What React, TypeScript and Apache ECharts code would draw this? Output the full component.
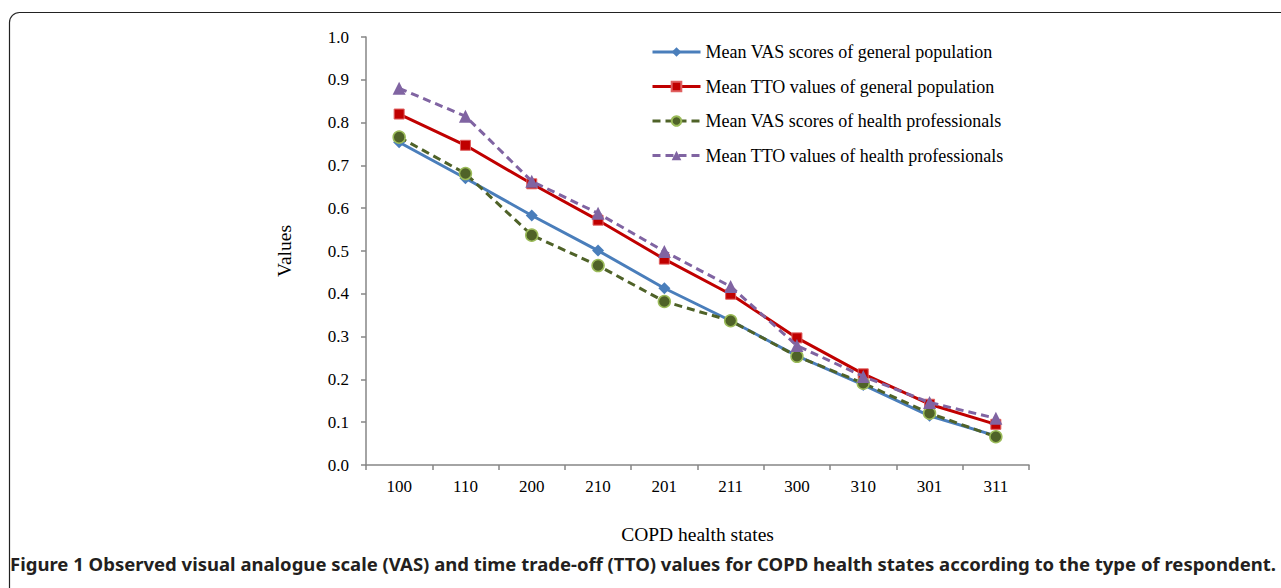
import React, { useEffect, useRef } from "react";
import * as echarts from "echarts";

const categories = ["100", "110", "200", "210", "201", "211", "300", "310", "301", "311"];
const vasGeneral = [0.754, 0.670, 0.583, 0.501, 0.413, 0.337, 0.255, 0.187, 0.115, 0.068];
const ttoGeneral = [0.820, 0.747, 0.657, 0.572, 0.481, 0.399, 0.297, 0.213, 0.142, 0.095];
const vasProf = [0.766, 0.681, 0.537, 0.466, 0.382, 0.337, 0.254, 0.191, 0.121, 0.066];
const ttoProf = [0.880, 0.815, 0.663, 0.588, 0.499, 0.417, 0.279, 0.207, 0.146, 0.109];
const seriesNames = [
  "Mean VAS scores of general population",
  "Mean TTO values of general population",
  "Mean VAS scores of health professionals",
  "Mean TTO values of health professionals",
];
const yTicks = [0, 0.1, 0.2, 0.3, 0.4, 0.5, 0.6, 0.7, 0.8, 0.9, 1.0];
const xTitle = "COPD health states";
const yTitle = "Values";
const caption =
  "Figure 1 Observed visual analogue scale (VAS) and time trade-off (TTO) values for COPD health states according to the type of respondent.";

export default function App() {
  const ref = useRef<HTMLDivElement>(null);
  useEffect(() => {
    if (!ref.current) return;
    const chart = echarts.init(ref.current, null, { renderer: "svg" });
    const serif = "'Liberation Serif', 'Times New Roman', serif";
    const axisColor = "#868686";
    chart.setOption({
      animation: false,
      backgroundColor: "#ffffff",
      textStyle: { fontFamily: serif, color: "#000" },
      graphic: [
        {
          type: "rect",
          shape: { x: 9.5, y: 12.5, width: 1300, height: 600, r: 10 },
          style: { fill: "none", stroke: "#222", lineWidth: 1.2 },
          silent: true,
        },
        {
          type: "text",
          left: 10,
          top: 554,
          style: {
            text: caption,
            fontFamily: "'Noto Sans', 'Open Sans', sans-serif",
            fontWeight: "bold",
            fontSize: 18.5,
            fill: "#231f20",
          },
        },
      ],
      grid: { left: 366, right: 252, top: 37, bottom: 123 },
      legend: {
        orient: "vertical",
        left: 646,
        top: 38,
        itemWidth: 48,
        itemHeight: 12,
        itemGap: 16.5,
        data: seriesNames,
        lineStyle: { width: 3 },
        textStyle: { fontFamily: serif, fontSize: 18, color: "#000" },
      },
      xAxis: {
        type: "category",
        data: categories,
        boundaryGap: true,
        name: xTitle,
        nameLocation: "middle",
        nameGap: 59,
        nameTextStyle: { fontFamily: serif, fontSize: 19.5, color: "#000" },
        axisLine: { lineStyle: { color: axisColor, width: 1.5 } },
        axisTick: { show: true, length: 5, inside: false, lineStyle: { color: axisColor, width: 1.5 } },
        axisLabel: { fontFamily: serif, fontSize: 17, color: "#000", margin: 13 },
        splitLine: { show: false },
      },
      yAxis: {
        type: "value",
        min: yTicks[0],
        max: yTicks[yTicks.length - 1],
        interval: 0.1,
        name: yTitle,
        nameLocation: "middle",
        nameGap: 72,
        nameRotate: 90,
        nameTextStyle: { fontFamily: serif, fontSize: 19.5, color: "#000" },
        axisLine: { show: true, lineStyle: { color: axisColor, width: 1.5 } },
        axisTick: { show: true, length: 5, lineStyle: { color: axisColor, width: 1.5 } },
        axisLabel: {
          fontFamily: serif,
          fontSize: 17,
          color: "#000",
          margin: 17,
          formatter: (v: number) => v.toFixed(1),
        },
        splitLine: { show: false },
      },
      series: [
        {
          name: seriesNames[0],
          type: "line",
          data: vasGeneral,
          symbol: "diamond",
          symbolSize: 12,
          lineStyle: { color: "#4a7ebb", width: 3 },
          itemStyle: { color: "#4a7ebb", borderColor: "#4a7ebb", borderWidth: 0 },
          z: 2,
        },
        {
          name: seriesNames[1],
          type: "line",
          data: ttoGeneral,
          symbol: "rect",
          symbolSize: 10,
          lineStyle: { color: "#c00000", width: 3 },
          itemStyle: { color: "#c00000", borderColor: "#e06060", borderWidth: 1 },
          z: 3,
        },
        {
          name: seriesNames[2],
          type: "line",
          data: vasProf,
          symbol: "circle",
          symbolSize: 12,
          lineStyle: { color: "#4f6228", width: 3, type: [8, 5] },
          itemStyle: { color: "#4f6228", borderColor: "#9bbb59", borderWidth: 1.5 },
          z: 4,
        },
        {
          name: seriesNames[3],
          type: "line",
          data: ttoProf,
          symbol: "triangle",
          symbolSize: 13,
          lineStyle: { color: "#8064a2", width: 3, type: [8, 5] },
          itemStyle: { color: "#8064a2", borderColor: "#8064a2", borderWidth: 0 },
          z: 5,
        },
      ],
    });
    return () => chart.dispose();
  }, []);
  return (
    <div
      ref={ref}
      style={{ position: "fixed", left: 0, top: 0, width: 1281, height: 588, background: "#fff" }}
    />
  );
}
